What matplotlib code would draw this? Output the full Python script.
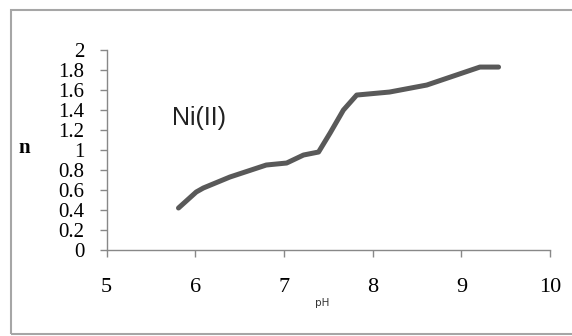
import matplotlib.pyplot as plt
from matplotlib.patches import Rectangle

# Data
ph = [5.81, 6.01, 6.09, 6.39, 6.80, 7.03, 7.22, 7.39, 7.52, 7.67, 7.82, 8.19, 8.61, 9.21, 9.42]
n = [0.42, 0.58, 0.62, 0.73, 0.85, 0.87, 0.95, 0.98, 1.17, 1.40, 1.55, 1.58, 1.65, 1.83, 1.83]
xticks = [5, 6, 7, 8, 9, 10]
yticks = [0, 0.2, 0.4, 0.6, 0.8, 1, 1.2, 1.4, 1.6, 1.8, 2]
ytick_labels = ['0', '0.2', '0.4', '0.6', '0.8', '1', '1.2', '1.4', '1.6', '1.8', '2']

fig = plt.figure(figsize=(5.72, 3.36), dpi=100)
ax = fig.add_axes([0.1865, 0.256, 0.775, 0.595])

ax.plot(ph, n, color='#595959', lw=3.6, solid_capstyle='round', solid_joinstyle='round')

ax.set_xlim(5, 10)
ax.set_ylim(0, 2)
ax.set_xticks(xticks)
ax.set_xticklabels([str(t) for t in xticks], fontfamily='Liberation Serif', fontsize=16)
ax.set_yticks(yticks)
ax.set_yticklabels(ytick_labels, fontfamily='Liberation Serif', fontsize=15)
ax.tick_params(axis='y', length=5, width=1, color='#888888', pad=11)
ax.tick_params(axis='x', length=5, width=1, color='#888888', pad=15)

for side in ['top', 'right']:
    ax.spines[side].set_visible(False)
for side in ['left', 'bottom']:
    ax.spines[side].set_color('#888888')
    ax.spines[side].set_linewidth(1)

ax.set_xlabel('pH', fontsize=7.5, fontfamily='DejaVu Sans', color='#333333')
ax.xaxis.set_label_coords(0.487, -0.24)
ax.set_ylabel('n', fontsize=15, fontfamily='Liberation Serif', fontweight='bold',
              rotation=0, va='center', ha='center')
ax.yaxis.set_label_coords(-0.185, 0.51)

ax.text(5.74, 1.32, 'Ni(II)', fontsize=18, fontfamily='Liberation Sans', color='#222222', va='center')

fig.patches.append(Rectangle((11 / 572, 2 / 336), 570 / 572, 324 / 336, transform=fig.transFigure,
                             fill=False, edgecolor='#a6a6a6', lw=1.5))

fig.savefig('out.png', dpi=100)
